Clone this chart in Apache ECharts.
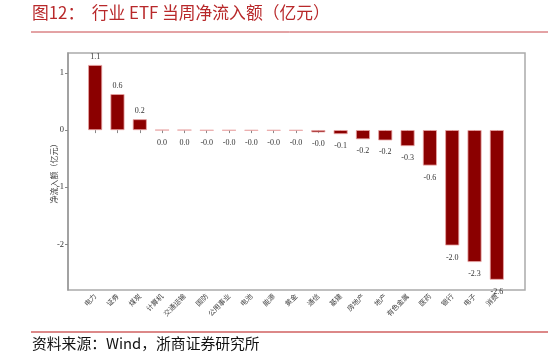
<!DOCTYPE html>
<html><head><meta charset="utf-8">
<script src="https://cdn.jsdelivr.net/npm/echarts@6/dist/echarts.min.js"></script>
<style>html,body{margin:0;padding:0;background:#fff}#c{width:548px;height:361px}</style>
</head><body><div id="c"></div>
<script>
var categories = ['电力','证券','煤炭','计算机','交通运输','国防','公用事业','电池','能源','黄金','通信','基建','房地产','地产','有色金属','医药','银行','电子','消费'];
var values = [1.14, 0.63, 0.19, 0.001, 0.001, -0.006, -0.006, -0.008, -0.008, -0.008, -0.04, -0.07, -0.16, -0.18, -0.28, -0.62, -2.02, -2.31, -2.62];
var yTicks = [-2, -1, 0, 1];
var titleText = '图12：  行业 ETF 当周净流入额（亿元）';
var sourceText = '资料来源：Wind，浙商证券研究所';
var yName = '净流入额（亿元）';

var chart = echarts.init(document.getElementById('c'), null, {renderer:'canvas'});
var serif = 'Liberation Serif';
var cjk = 'Noto Sans CJK SC';
function fmt(v){var s=(Math.abs(v)<0.05)?'0.0':Math.abs(v).toFixed(1); if(v<0) s='-'+s; if(v>1.1) s='1.1'; return s;}
var data = values.map(function(v){
  return {value:v, label:{position:(v>0.01)?'top':'bottom', distance:(v>0.01)?4:8}};
});
chart.setOption({
  animation:false,
  graphic:[
    {type:'text', left:32, top:4, style:{text:titleText, font:'16.8px "Noto Sans CJK SC"', fill:'#b8282a'}},
    {type:'line', shape:{x1:31,y1:32,x2:548,y2:32}, style:{stroke:'#c8474a', lineWidth:1}},
    {type:'line', shape:{x1:31,y1:332,x2:548,y2:332}, style:{stroke:'#d06060', lineWidth:1.5}},
    {type:'text', left:32, top:336, style:{text:sourceText, font:'14.8px "Noto Sans CJK SC"', fill:'#111'}}
  ],
  grid:[
    {left:68, right:23, top:53, bottom:71, show:true, borderColor:'#aaa', borderWidth:1.5, backgroundColor:'transparent'},
    {left:84, right:40, top:53, bottom:71}
  ],
  xAxis:[
    {type:'value', gridIndex:0, min:0, max:1, show:false},
    {type:'category', gridIndex:1, data:categories,
      axisLine:{show:false},
      axisTick:{show:true, alignWithLabel:true, length:3, lineStyle:{color:'#888'}},
      axisLabel:{rotate:45, fontSize:7, fontFamily:cjk, color:'#444', margin:5, interval:0}}
  ],
  yAxis:[
    {type:'value', gridIndex:0, min:-2.8, max:1.35,
      name:yName, nameLocation:'middle', nameGap:10, nameRotate:90, nameMoveOverlap:false,
      nameTextStyle:{fontSize:8, fontFamily:cjk, color:'#444'},
      axisLine:{show:true, lineStyle:{color:'#999', width:1.5}},
      axisTick:{show:true, length:3, customValues:yTicks, lineStyle:{color:'#888'}},
      axisLabel:{customValues:yTicks, fontSize:8.5, fontFamily:serif, color:'#333', margin:4},
      splitLine:{show:false}},
    {type:'value', gridIndex:1, min:-2.8, max:1.35, show:false, splitLine:{show:false}}
  ],
  series:[{
    type:'bar', xAxisIndex:1, yAxisIndex:1, data:data, barWidth:14,
    itemStyle:{color:'#8b0000', borderColor:'#e9a3a3', borderWidth:0.8},
    label:{show:true, fontSize:8, fontFamily:serif, color:'#333',
      formatter:function(p){return fmt(p.value);}}
  }]
});
</script></body></html>
